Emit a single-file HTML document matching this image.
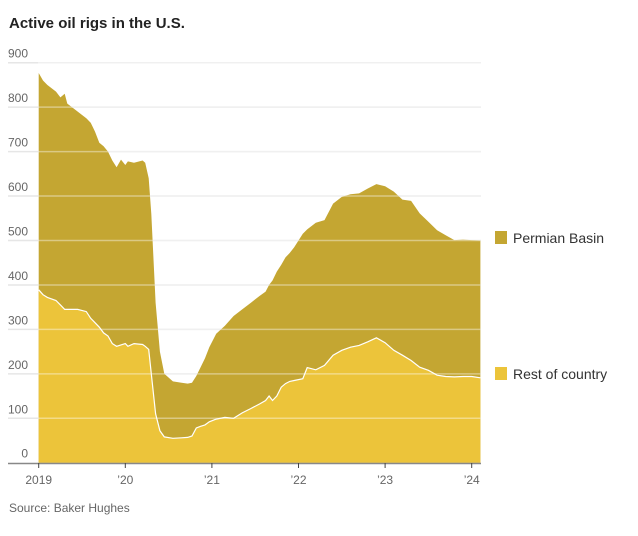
<!DOCTYPE html>
<html><head><meta charset="utf-8"><style>
body{margin:0;background:#fff;font-family:"Liberation Sans",sans-serif}
</style></head><body>
<svg width="638" height="531" xmlns="http://www.w3.org/2000/svg" id="chart">
<text x="9" y="28" font-size="15" font-weight="bold" fill="#222">Active oil rigs in the U.S.</text>
<g id="backgrid"></g>
<g id="areas"></g>
<g id="grid"></g>
<g id="axis"></g>
<rect x="495" y="231" width="12" height="13" fill="#c4a632"/>
<text x="513" y="243" font-size="14" fill="#333">Permian Basin</text>
<rect x="495" y="367" width="12" height="13" fill="#ecc43a"/>
<text x="513" y="379" font-size="14" fill="#333">Rest of country</text>
<text x="9" y="512" font-size="12" fill="#666">Source: Baker Hughes</text>
</svg>
<script>
const dates=[2019.0,2019.05,2019.1,2019.2,2019.25,2019.3,2019.33,2019.45,2019.55,2019.6,2019.65,2019.7,2019.75,2019.8,2019.85,2019.9,2019.95,2020.0,2020.03,2020.1,2020.2,2020.23,2020.27,2020.3,2020.35,2020.4,2020.45,2020.55,2020.65,2020.72,2020.77,2020.82,2020.87,2020.92,2020.97,2021.05,2021.15,2021.25,2021.35,2021.45,2021.55,2021.62,2021.66,2021.7,2021.75,2021.8,2021.85,2021.9,2021.95,2022.05,2022.1,2022.2,2022.3,2022.4,2022.5,2022.6,2022.7,2022.8,2022.9,2023.0,2023.1,2023.2,2023.3,2023.4,2023.5,2023.6,2023.7,2023.8,2023.9,2024.0,2024.1];
const totalRigs=[877,860,850,835,822,830,808,790,775,765,745,720,712,700,680,665,682,670,678,675,680,675,640,560,360,250,200,183,180,178,180,195,215,235,260,290,308,330,345,360,375,385,400,410,430,445,462,472,485,515,525,540,546,583,598,604,606,617,627,622,610,592,589,561,542,523,512,501,502,501,500];
const restRigs=[389,378,372,365,355,345,345,345,340,325,315,305,292,285,268,262,265,268,262,268,266,262,255,200,110,72,58,55,56,57,60,78,82,85,92,98,102,100,112,122,132,140,150,140,150,170,178,183,185,189,214,209,219,242,253,260,264,272,281,270,253,242,230,215,208,197,194,193,194,194,191];
const yTicks=[0,100,200,300,400,500,600,700,800,900];
const xTickYears=[2019,2020,2021,2022,2023,2024];
const xTickLabels=["2019","\u201920","\u201921","\u201922","\u201923","\u201924"];
const NS="http://www.w3.org/2000/svg";
const X=t=>38.7+(t-2019)*86.6;
const Y=v=>462.7-v*0.4444;
function mk(tag,attrs,parent){const e=document.createElementNS(NS,tag);for(const k in attrs)e.setAttribute(k,attrs[k]);parent.appendChild(e);return e;}
const areas=document.getElementById('areas'),grid=document.getElementById('grid'),axis=document.getElementById('axis'),backgrid=document.getElementById('backgrid');
function areaPath(vals){let d='M'+X(dates[0])+','+Y(0);dates.forEach((t,i)=>{d+='L'+X(t).toFixed(1)+','+Y(vals[i]).toFixed(1);});d+='L'+X(dates[dates.length-1])+','+Y(0)+'Z';return d;}
const pA=mk('path',{d:areaPath(totalRigs),fill:'#c4a632'},areas);


const pB=mk('path',{d:areaPath(restRigs),fill:'#ecc43a'},areas);


let ld='';dates.forEach((t,i)=>{ld+=(i?'L':'M')+X(t).toFixed(1)+','+Y(restRigs[i]).toFixed(1);});
const ln=mk('path',{d:ld,fill:'none',stroke:'#fff','stroke-width':1.2},areas);


yTicks.forEach(v=>{
 if(v>0){
 const b=mk('line',{x1:8,x2:481,y1:Y(v),y2:Y(v),stroke:'#e6e6e6','stroke-width':1.5},backgrid);
 
 
 const g=mk('line',{x1:38,x2:481,y1:Y(v),y2:Y(v),stroke:'#fff','stroke-opacity':0.4,'stroke-width':1.5},grid);
 
 }
 const tx=mk('text',{x:28,y:Y(v)-5,'font-size':12,fill:'#666','text-anchor':'end'},grid);
 tx.textContent=v;
 
 
});
const base=mk('line',{x1:8,x2:481,y1:463.5,y2:463.5,stroke:'#888','stroke-width':1.5},axis);


xTickYears.forEach((yr,i)=>{
 const tk=mk('line',{x1:X(yr),x2:X(yr),y1:463,y2:468,stroke:'#444','stroke-width':1},axis);
 
 
 const tx=mk('text',{x:X(yr),y:484,'font-size':12,fill:'#666','text-anchor':'middle'},axis);
 tx.textContent=xTickLabels[i];
 
 
});
</script>
</body></html>
